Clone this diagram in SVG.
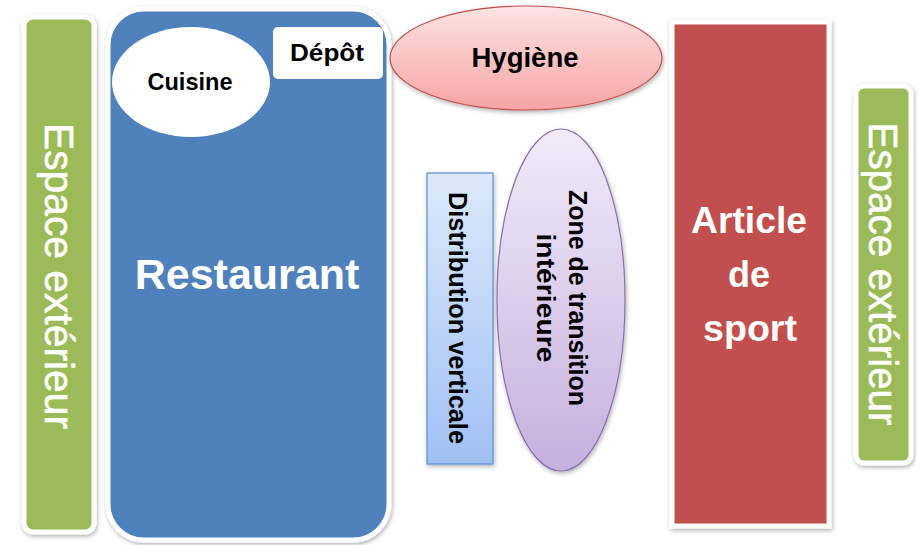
<svg xmlns="http://www.w3.org/2000/svg" width="921" height="545" viewBox="0 0 921 545">
<style>
.t{font-family:"Liberation Sans",Arial,sans-serif;font-weight:bold;text-anchor:middle}
.w{fill:#ffffff}
.k{fill:#000000}
.ext{font-family:"Liberation Sans",Arial,sans-serif;font-size:40px;fill:#ffffff;text-anchor:middle;stroke:#ffffff;stroke-width:0.6}
.frame{stroke:#ffffff;stroke-width:5}
</style>
<defs>
<filter id="sh" x="-10%" y="-10%" width="120%" height="120%">
<feDropShadow dx="1" dy="2" stdDeviation="2" flood-color="#000" flood-opacity="0.3"/>
</filter>
<linearGradient id="gPink" x1="0" y1="0" x2="0" y2="1">
<stop offset="0" stop-color="#fde4e4"/><stop offset="1" stop-color="#f7a4a3"/>
</linearGradient>
<linearGradient id="gBlue" x1="0" y1="0" x2="0" y2="1">
<stop offset="0" stop-color="#dde9fb"/><stop offset="1" stop-color="#a0c0f4"/>
</linearGradient>
<linearGradient id="gLav" x1="0" y1="0" x2="0" y2="1">
<stop offset="0" stop-color="#f1ebf8"/><stop offset="1" stop-color="#c5b0df"/>
</linearGradient>
</defs>

<g id="espace-gauche">
<rect x="24" y="17" width="70" height="515" rx="9" fill="#9bbb59" class="frame" filter="url(#sh)"/>
<text class="ext" transform="translate(59,276) rotate(90)" y="14" textLength="306" lengthAdjust="spacingAndGlyphs">Espace extérieur</text>
</g>

<g id="restaurant">
<rect x="108" y="9" width="281" height="531" rx="36" fill="#4f81bd" class="frame" filter="url(#sh)"/>
<text class="t w" x="247" y="289" font-size="43">Restaurant</text>
</g>

<g id="cuisine">
<ellipse cx="191" cy="82" rx="79" ry="55" fill="#ffffff"/>
<text class="t k" x="190" y="90" font-size="23" textLength="85" lengthAdjust="spacingAndGlyphs">Cuisine</text>
</g>

<g id="depot">
<rect x="273" y="27" width="110" height="52" rx="5" fill="#ffffff"/>
<text class="t k" x="327" y="61" font-size="24" textLength="74" lengthAdjust="spacingAndGlyphs">Dépôt</text>
</g>

<g id="hygiene">
<ellipse cx="526" cy="58" rx="136" ry="52" fill="url(#gPink)" stroke="#c0504d" stroke-width="1.2" filter="url(#sh)"/>
<text class="t k" x="525" y="67" font-size="27" textLength="107" lengthAdjust="spacingAndGlyphs">Hygiène</text>
</g>

<g id="distribution">
<rect x="427" y="173" width="66" height="291" fill="url(#gBlue)" stroke="#5b8ed0" stroke-width="1.2" filter="url(#sh)"/>
<text class="t k" font-size="25" transform="translate(458,318) rotate(90)" y="9" textLength="252" lengthAdjust="spacingAndGlyphs">Distribution verticale</text>
</g>

<g id="zone-transition">
<ellipse cx="561" cy="300" rx="64" ry="171" fill="url(#gLav)" stroke="#8a6db0" stroke-width="1.2" filter="url(#sh)"/>
<text class="t k" font-size="25" transform="translate(578,298) rotate(90)" y="9" textLength="216" lengthAdjust="spacingAndGlyphs">Zone de transition</text>
<text class="t k" font-size="25" transform="translate(546,298) rotate(90)" y="9" textLength="129" lengthAdjust="spacingAndGlyphs">intérieure</text>
</g>

<g id="article-sport">
<rect x="672" y="22" width="157" height="504" fill="#c0504d" class="frame" filter="url(#sh)"/>
<text class="t w" x="749" y="233" font-size="36" textLength="116" lengthAdjust="spacingAndGlyphs">Article</text>
<text class="t w" x="749" y="287" font-size="36">de</text>
<text class="t w" x="750" y="341" font-size="36" textLength="94" lengthAdjust="spacingAndGlyphs">sport</text>
</g>

<g id="espace-droite">
<rect x="856" y="86" width="55" height="377" rx="8" fill="#9bbb59" class="frame" filter="url(#sh)"/>
<text class="ext" transform="translate(883,274) rotate(90)" y="14" textLength="303" lengthAdjust="spacingAndGlyphs">Espace extérieur</text>
</g>

<g id="connectors"></g>
</svg>
